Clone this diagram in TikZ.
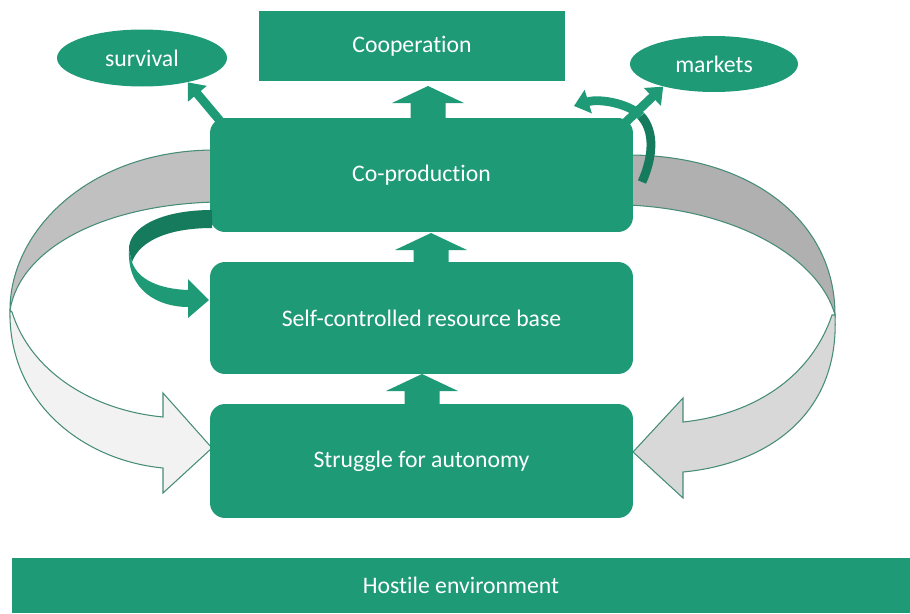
\documentclass[tikz,border=0pt]{standalone}
\usepackage{fontspec}
\setmainfont{Carlito}[Ligatures=NoCommon]
\usetikzlibrary{arrows.meta,shapes.geometric}
\definecolor{boxgreen}{RGB}{31,154,118}
\definecolor{darkgreen}{RGB}{22,122,92}
\definecolor{grayA}{RGB}{192,192,192}
\definecolor{grayB}{RGB}{242,242,242}
\definecolor{grayC}{RGB}{176,176,176}
\definecolor{grayD}{RGB}{216,216,216}
\definecolor{rimgreen}{RGB}{70,140,120}
% block arrow pointing up: centre x, tip y, foot y
\newcommand{\BlockUp}[3]{\fill[boxgreen] (#1-17.5,#3) -- (#1-17.5,#2+17) -- (#1-36,#2+17) -- (#1,#2) -- (#1+36,#2+17) -- (#1+17.5,#2+17) -- (#1+17.5,#3) -- cycle;}

\begin{document}
\begin{tikzpicture}[x=0.02cm, y=-0.02cm,
                    >={Triangle[length=8.5pt,width=13.5pt]},
                    greenbox/.style={fill=boxgreen, text=white, inner sep=0pt,
                        font=\fontsize{13.5}{16}\selectfont},
                    roundbox/.style={greenbox, rounded corners=0.3cm,
                        minimum width=8.46cm, minimum height=2.28cm},
                    oval/.style={greenbox, ellipse},
                    ribbon/.style={draw=rimgreen, line width=0.6pt}]

                \useasboundingbox (0,0) rectangle (910,613);

                % the two big loops, behind the boxes
                \filldraw[ribbon, fill=grayA] (215,150) .. controls (90,150) and (10,230) .. (10,310)
                    .. controls (20,250) and (100,205) .. (215,202) -- cycle;
                \filldraw[ribbon, fill=grayB] (10,310) .. controls (8,400) and (80,460) .. (163,468)
                    -- (163,493) -- (212,448) -- (163,393) -- (163,417)
                    .. controls (90,410) and (30,370) .. (12,312) -- cycle;
                \filldraw[ribbon, fill=grayC] (628,155) .. controls (750,155) and (835,220) .. (835,315)
                    .. controls (820,260) and (740,210) .. (628,205) -- cycle;
                \filldraw[ribbon, fill=grayD] (835,315) .. controls (840,420) and (760,465) .. (683,472)
                    -- (683,498) -- (633,452) -- (683,398) -- (683,422)
                    .. controls (750,415) and (810,380) .. (832,315) -- cycle;

                \node[greenbox, minimum width=6.12cm, minimum height=1.4cm] (coop) at (412,46) {Cooperation};
                \node[oval, minimum width=3.4cm, minimum height=1.14cm] (survival) at (142,58) {survival};
                \node[oval, minimum width=3.36cm, minimum height=1.12cm] (markets) at (714,64) {markets};
                \node[roundbox] (coprod) at (421.5,175) {Co-production};
                \node[roundbox, minimum height=2.24cm] (selfbase) at (421.5,318) {Self-controlled resource base};
                \node[roundbox] (struggle) at (421.5,461) {Struggle for autonomy};
                \node[greenbox, minimum width=17.96cm, minimum height=1.1cm] (hostile) at (461,585.5) {Hostile environment};

                \BlockUp{428}{86}{118}
                \BlockUp{431}{233}{262}
                \BlockUp{422}{374}{404}

                \coordinate (survfoot) at (221,122);
                \coordinate (markfoot) at (626,122);
                \draw[->, line width=5pt, boxgreen] (survfoot) -- (survival.-28);
                \draw[->, line width=5pt, boxgreen] (markfoot) -- (markets.-156);

                % small turn at the top right corner
                \draw[line width=5pt, darkgreen] (642,182) .. controls (656,150) and (652,128) .. (641,116);
                \draw[->, line width=5pt, boxgreen] (641,116) .. controls (630,104) and (600,98) .. (574,106);

                % turn from Co-production down to the resource base
                \fill[darkgreen] (212,210) .. controls (160,210) and (128,228) .. (129,250) -- (132,262)
                    .. controls (140,240) and (170,228) .. (212,228) -- cycle;
                \fill[boxgreen] (129,250) .. controls (127,292) and (160,307) .. (188,307)
                    -- (188,318) -- (209,300) -- (188,279) -- (188,290)
                    .. controls (160,289) and (138,280) .. (132,262) -- cycle;

            \end{tikzpicture}
\end{document}
